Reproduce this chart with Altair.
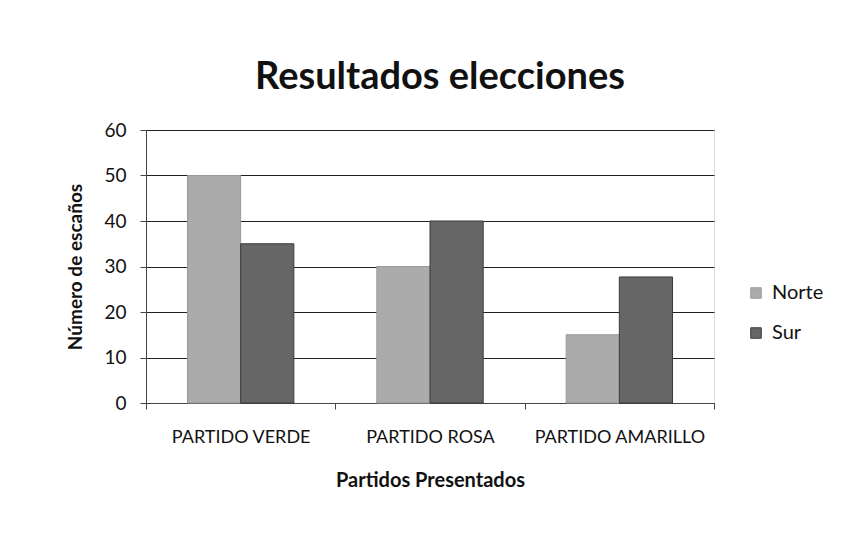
import altair as alt
import pandas as pd

partidos = ["PARTIDO VERDE", "PARTIDO ROSA", "PARTIDO AMARILLO"]
zonas = ["Norte", "Sur"]
norte = [50, 30, 15]
sur = [35, 40, 27.7]
colores = ["#ababab", "#666666"]
bordes = ["#9a9a9a", "#3a3a3a"]

rows = []
for i, p in enumerate(partidos):
    rows.append({"partido": p, "zona": "Norte", "escanos": norte[i]})
    rows.append({"partido": p, "zona": "Sur", "escanos": sur[i]})
df = pd.DataFrame(rows)

FONT = "Lato"

chart = alt.Chart(df).mark_bar(strokeWidth=1).encode(
    x=alt.X("partido:N", sort=partidos,
            scale=alt.Scale(paddingInner=0, paddingOuter=0),
            axis=alt.Axis(title="Partidos Presentados", labelAngle=0, tickBand="extent",
                          tickSize=6, labelPadding=19, titlePadding=24,
                          labelFontSize=18, titleFontSize=20, labelFont=FONT, titleFont=FONT,
                          titleFontWeight="bold", labelColor="#111", titleColor="#111",
                          domainColor="#444", tickColor="#444", grid=False)),
    xOffset=alt.XOffset("zona:N", sort=zonas,
                        scale=alt.Scale(paddingInner=0, paddingOuter=0.78)),
    y=alt.Y("escanos:Q", scale=alt.Scale(domain=[0, 60]),
            axis=alt.Axis(title="Número de escaños", values=[0, 10, 20, 30, 40, 50, 60],
                          tickSize=6, labelPadding=14, titlePadding=18,
                          labelFontSize=19, titleFontSize=19, labelFont=FONT, titleFont=FONT,
                          titleFontWeight="bold", labelColor="#111", titleColor="#111",
                          domainColor="#444", tickColor="#444",
                          grid=True, gridColor="#222", gridWidth=1)),
    color=alt.Color("zona:N", sort=zonas, scale=alt.Scale(domain=zonas, range=colores),
                    legend=alt.Legend(title=None, orient="none", legendX=600, legendY=153,
                                      symbolType="square", symbolSize=110,
                                      symbolStrokeColor="#555", symbolStrokeWidth=1,
                                      labelFont=FONT, labelFontSize=20, labelColor="#111",
                                      rowPadding=20, labelOffset=6)),
    stroke=alt.Stroke("zona:N", sort=zonas, scale=alt.Scale(domain=zonas, range=bordes),
                      legend=None),
).properties(
    width=568, height=273,
    padding={"left": 138, "top": 122, "right": 129, "bottom": 126},
    autosize=alt.AutoSizeParams(type="none"),
    title=alt.TitleParams("Resultados elecciones", font=FONT, fontSize=38, fontWeight="bold",
                          color="#111", offset=24, dx=10),
).configure_view(stroke=None).configure(background="white")

chart.save("out.html", embed_options={"renderer": "svg", "actions": False})
